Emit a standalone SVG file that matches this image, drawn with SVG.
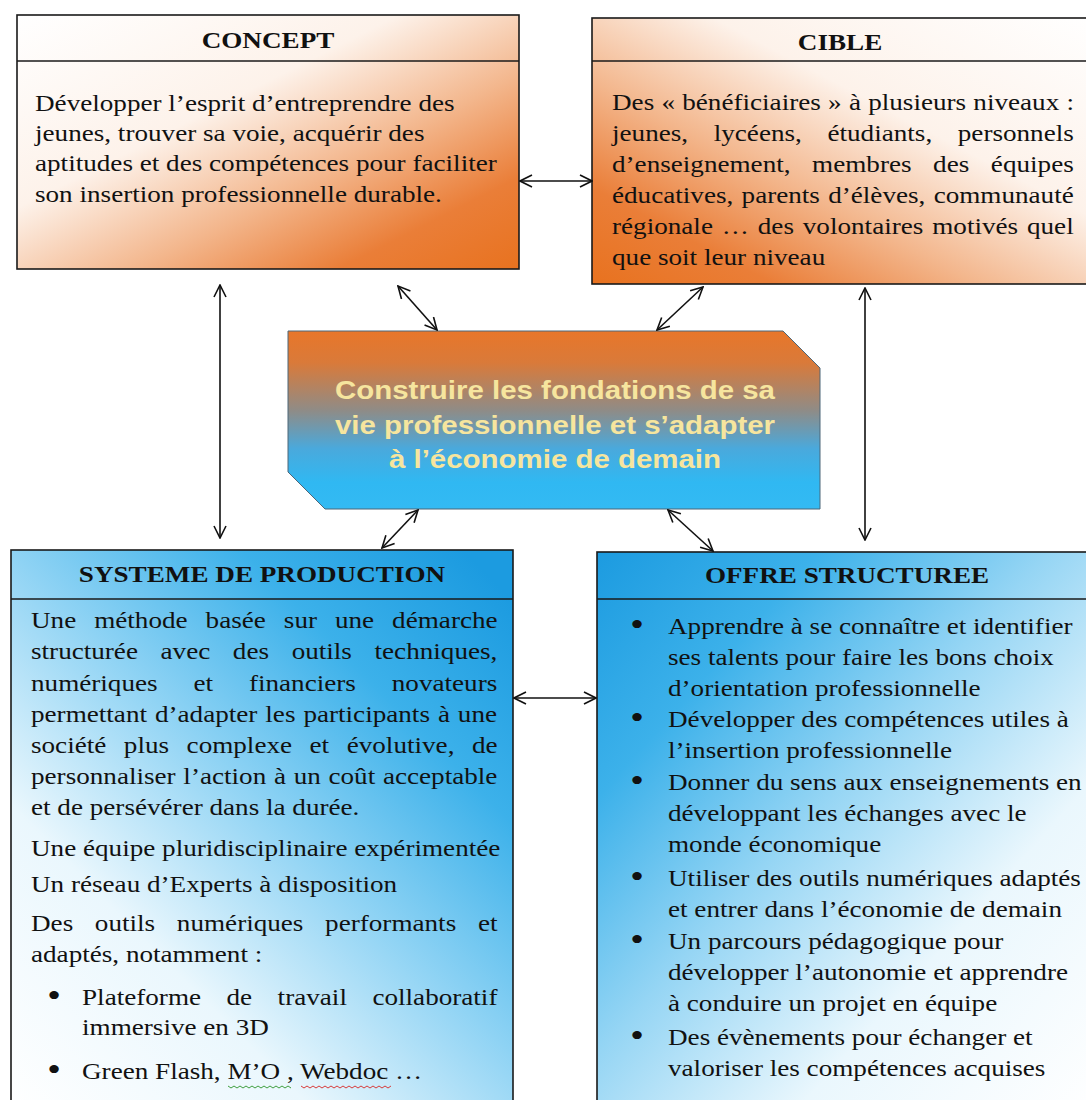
<svg xmlns="http://www.w3.org/2000/svg" width="1086" height="1100" viewBox="0 0 1086 1100">
<defs>
<linearGradient id="gConcept" x1="0" y1="0" x2="1" y2="1">
<stop offset="0" stop-color="#ffffff"/><stop offset="0.38" stop-color="#fdf2ea"/><stop offset="0.62" stop-color="#f3b68c"/><stop offset="0.82" stop-color="#ea7e38"/><stop offset="1" stop-color="#e8721f"/>
</linearGradient>
<linearGradient id="gCible" x1="1" y1="0" x2="0" y2="1">
<stop offset="0" stop-color="#ffffff"/><stop offset="0.38" stop-color="#fdf2ea"/><stop offset="0.62" stop-color="#f3b68c"/><stop offset="0.82" stop-color="#ea7e38"/><stop offset="1" stop-color="#e8721f"/>
</linearGradient>
<linearGradient id="gSys" x1="0" y1="1" x2="0.9" y2="0">
<stop offset="0" stop-color="#ffffff"/><stop offset="0.3" stop-color="#eaf7fd"/><stop offset="0.55" stop-color="#8fd3f4"/><stop offset="0.78" stop-color="#3cb1ea"/><stop offset="1" stop-color="#1c9be0"/>
</linearGradient>
<linearGradient id="gOffre" x1="0" y1="0" x2="1" y2="1">
<stop offset="0" stop-color="#1c9be0"/><stop offset="0.22" stop-color="#3cb1ea"/><stop offset="0.45" stop-color="#95d5f4"/><stop offset="0.7" stop-color="#eaf7fd"/><stop offset="1" stop-color="#ffffff"/>
</linearGradient>
<linearGradient id="gCenter" x1="0" y1="0" x2="0" y2="1">
<stop offset="0" stop-color="#e8762a"/><stop offset="0.18" stop-color="#d97a3a"/><stop offset="0.45" stop-color="#8e8c88"/><stop offset="0.66" stop-color="#4aa9dc"/><stop offset="0.85" stop-color="#30b8f2"/><stop offset="1" stop-color="#33baf3"/>
</linearGradient>
<marker id="ah" viewBox="0 0 14 14" refX="13" refY="7" markerWidth="14" markerHeight="14" markerUnits="userSpaceOnUse" orient="auto-start-reverse">
<path d="M1,1 L13,7 L1,13" fill="none" stroke="#111" stroke-width="1.6"/>
</marker>
</defs>
<style>
.box{stroke:#1a1a1a;stroke-width:1.6}
.div{stroke:#1a1a1a;stroke-width:1.6}
.t{font-family:"Liberation Serif","Times New Roman",serif;font-size:23.5px;fill:#111}
.b{font-family:"Liberation Serif","Times New Roman",serif;font-size:30px;font-weight:bold;fill:#111}
.h{font-family:"Liberation Serif","Times New Roman",serif;font-size:23.5px;font-weight:bold;fill:#111;text-anchor:middle}
.c{font-family:"Liberation Sans",Arial,sans-serif;font-size:25.5px;font-weight:bold;fill:#f6e59e;text-anchor:middle}
.con{stroke:#111;stroke-width:1.6;fill:none;marker-start:url(#ah);marker-end:url(#ah)}
</style>
<rect width="1086" height="1100" fill="#ffffff"/>

<g id="concept">
<rect class="box" x="17" y="15" width="502" height="254" fill="url(#gConcept)"/>
<line class="div" x1="17" y1="61" x2="519" y2="61"/>
<text class="h" transform="translate(268,48) scale(1.155,1)">CONCEPT</text>
<text class="t" transform="translate(35,111) scale(1.155,1)">Développer l’esprit d’entreprendre des</text>
<text class="t" transform="translate(35,141) scale(1.155,1)">jeunes, trouver sa voie, acquérir des</text>
<text class="t" transform="translate(35,171) scale(1.155,1)">aptitudes et des compétences pour faciliter</text>
<text class="t" transform="translate(35,202) scale(1.155,1)">son insertion professionnelle durable.</text>
</g>

<g id="cible">
<rect class="box" x="592" y="18" width="506" height="266" fill="url(#gCible)"/>
<line class="div" x1="592" y1="61" x2="1098" y2="61"/>
<text class="h" transform="translate(840,50) scale(1.155,1)">CIBLE</text>
<text class="t" transform="translate(612,110) scale(1.155,1)" word-spacing="0.4">Des « bénéficiaires » à plusieurs niveaux :</text>
<text class="t" transform="translate(612,141) scale(1.155,1)" word-spacing="16.3">jeunes, lycéens, étudiants, personnels</text>
<text class="t" transform="translate(612,172) scale(1.155,1)" word-spacing="12.8">d’enseignement, membres des équipes</text>
<text class="t" transform="translate(612,203) scale(1.155,1)" word-spacing="1.3">éducatives, parents d’élèves, communauté</text>
<text class="t" transform="translate(612,234) scale(1.155,1)" word-spacing="1.8">régionale … des volontaires motivés quel</text>
<text class="t" transform="translate(612,265) scale(1.155,1)">que soit leur niveau</text>
</g>

<g id="centre">
<polygon points="288,331 783,331 820,368 820,509 325,509 288,472" fill="url(#gCenter)" stroke="#4d6678" stroke-width="1"/>
<text class="c" transform="translate(555,399) scale(1.155,1)">Construire les fondations de sa</text>
<text class="c" transform="translate(555,434) scale(1.155,1)">vie professionnelle et s’adapter</text>
<text class="c" transform="translate(555,468) scale(1.155,1)">à l’économie de demain</text>
</g>

<g id="systeme">
<rect class="box" x="11" y="550" width="502" height="560" fill="url(#gSys)"/>
<line class="div" x1="11" y1="599" x2="513" y2="599"/>
<text class="h" transform="translate(262,582) scale(1.155,1)">SYSTEME DE PRODUCTION</text>
<text class="t" transform="translate(31,628) scale(1.155,1)" word-spacing="9.7">Une méthode basée sur une démarche</text>
<text class="t" transform="translate(31,659) scale(1.155,1)" word-spacing="13.7">structurée avec des outils techniques,</text>
<text class="t" transform="translate(31,691) scale(1.155,1)" word-spacing="25.2">numériques et financiers novateurs</text>
<text class="t" transform="translate(31,722) scale(1.155,1)" word-spacing="1">permettant d’adapter les participants à une</text>
<text class="t" transform="translate(31,753) scale(1.155,1)" word-spacing="9.3">société plus complexe et évolutive, de</text>
<text class="t" transform="translate(31,784) scale(1.155,1)" word-spacing="0.8">personnaliser l’action à un coût acceptable</text>
<text class="t" transform="translate(31,815) scale(1.155,1)">et de persévérer dans la durée.</text>
<text class="t" transform="translate(31,856) scale(1.155,1)">Une équipe pluridisciplinaire expérimentée</text>
<text class="t" transform="translate(31,892) scale(1.155,1)">Un réseau d’Experts à disposition</text>
<text class="t" transform="translate(31,931) scale(1.155,1)" word-spacing="12.9">Des outils numériques performants et</text>
<text class="t" transform="translate(31,962) scale(1.155,1)">adaptés, notamment :</text>
<text class="b" transform="translate(48,1005) scale(1.155,1)">•</text>
<text class="t" transform="translate(82,1005) scale(1.155,1)" word-spacing="16.2">Plateforme de travail collaboratif</text>
<text class="t" transform="translate(82,1035) scale(1.155,1)">immersive en 3D</text>
<text class="b" transform="translate(48,1079) scale(1.155,1)">•</text>
<text class="t" transform="translate(82,1079) scale(1.155,1)">Green Flash, M’O , Webdoc …</text>
<path d="M228,1086 l3,2 l3,-2 l3,2 l3,-2 l3,2 l3,-2 l3,2 l3,-2 l3,2 l3,-2 l3,2 l3,-2 l3,2 l3,-2 l3,2 l3,-2 l3,2 l3,-2 l3,2 l3,-2 l3,2" fill="none" stroke="#3f9f3f" stroke-width="1"/>
<path d="M301,1086 l3,2 l3,-2 l3,2 l3,-2 l3,2 l3,-2 l3,2 l3,-2 l3,2 l3,-2 l3,2 l3,-2 l3,2 l3,-2 l3,2 l3,-2 l3,2 l3,-2 l3,2 l3,-2 l3,2 l3,-2 l3,2 l3,-2 l3,2 l3,-2 l3,2 l3,-2 l3,2 l3,-2" fill="none" stroke="#d83a3a" stroke-width="1"/>
</g>

<g id="offre">
<rect class="box" x="597" y="552" width="501" height="558" fill="url(#gOffre)"/>
<line class="div" x1="597" y1="599" x2="1098" y2="599"/>
<text class="h" transform="translate(847,583) scale(1.155,1)">OFFRE STRUCTUREE</text>
<text class="b" transform="translate(631,634) scale(1.155,1)">•</text>
<text class="t" transform="translate(668,634) scale(1.155,1)">Apprendre à se connaître et identifier</text>
<text class="t" transform="translate(668,665) scale(1.155,1)">ses talents pour faire les bons choix</text>
<text class="t" transform="translate(668,696) scale(1.155,1)">d’orientation professionnelle</text>
<text class="b" transform="translate(631,727) scale(1.155,1)">•</text>
<text class="t" transform="translate(668,727) scale(1.155,1)">Développer des compétences utiles à</text>
<text class="t" transform="translate(668,758) scale(1.155,1)">l’insertion professionnelle</text>
<text class="b" transform="translate(631,790) scale(1.155,1)">•</text>
<text class="t" transform="translate(668,790) scale(1.155,1)">Donner du sens aux enseignements en</text>
<text class="t" transform="translate(668,821) scale(1.155,1)">développant les échanges avec le</text>
<text class="t" transform="translate(668,852) scale(1.155,1)">monde économique</text>
<text class="b" transform="translate(631,886) scale(1.155,1)">•</text>
<text class="t" transform="translate(668,886) scale(1.155,1)">Utiliser des outils numériques adaptés</text>
<text class="t" transform="translate(668,917) scale(1.155,1)">et entrer dans l’économie de demain</text>
<text class="b" transform="translate(631,949) scale(1.155,1)">•</text>
<text class="t" transform="translate(668,949) scale(1.155,1)">Un parcours pédagogique pour</text>
<text class="t" transform="translate(668,980) scale(1.155,1)">développer l’autonomie et apprendre</text>
<text class="t" transform="translate(668,1011) scale(1.155,1)">à conduire un projet en équipe</text>
<text class="b" transform="translate(631,1045) scale(1.155,1)">•</text>
<text class="t" transform="translate(668,1045) scale(1.155,1)">Des évènements pour échanger et</text>
<text class="t" transform="translate(668,1076) scale(1.155,1)">valoriser les compétences acquises</text>
</g>

<g id="connectors">
<line class="con" x1="520" y1="181" x2="592" y2="181"/>
<line class="con" x1="220" y1="285" x2="220" y2="538"/>
<line class="con" x1="865" y1="288" x2="865" y2="540"/>
<line class="con" x1="398" y1="286" x2="437" y2="330"/>
<line class="con" x1="703" y1="287" x2="657" y2="330"/>
<line class="con" x1="418" y1="510" x2="382" y2="548"/>
<line class="con" x1="668" y1="510" x2="713" y2="551"/>
<line class="con" x1="514" y1="698" x2="596" y2="698"/>
</g>
</svg>
